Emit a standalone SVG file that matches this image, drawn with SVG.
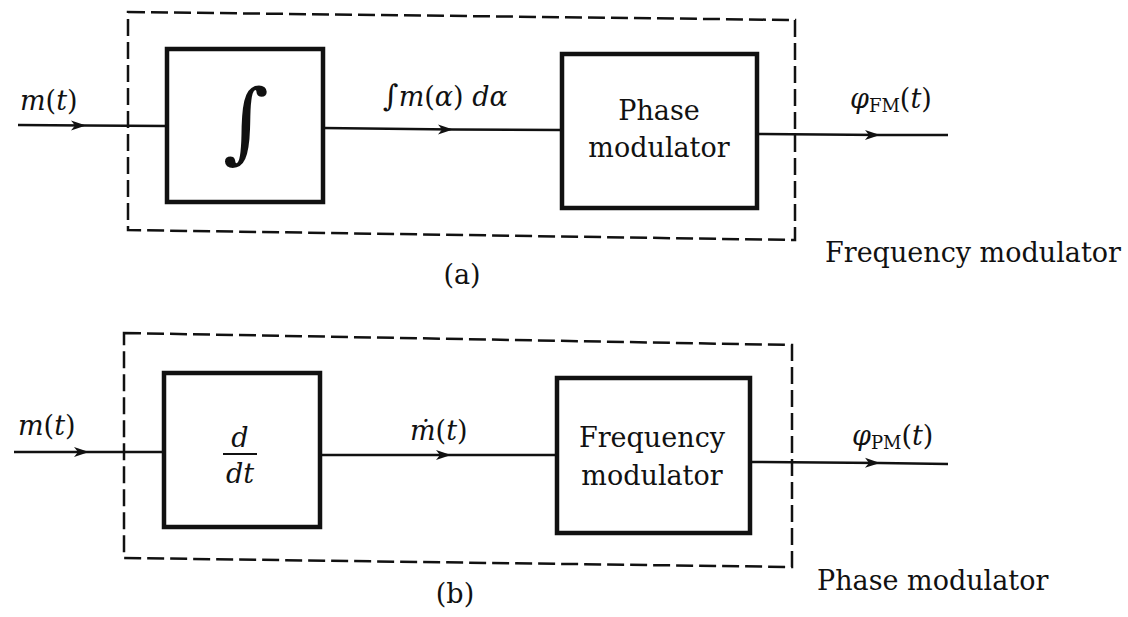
<svg xmlns="http://www.w3.org/2000/svg" width="1128" height="617" viewBox="0 0 1128 617">
<style>
.dash{fill:none;stroke:#111;stroke-width:2.5;stroke-dasharray:17 6}
.blk{fill:#fff;stroke:#111;stroke-width:4.5}
.wire{fill:none;stroke:#111;stroke-width:2.5}
.txt{font-family:"DejaVu Serif","Liberation Serif",serif;font-size:27px;fill:#111}
.math{font-family:"DejaVu Serif","Liberation Serif",serif;font-style:italic;font-size:27px;fill:#111}
.up{font-style:normal}
.sub{font-family:"DejaVu Serif","Liberation Serif",serif;font-style:normal;font-size:18px;fill:#111}
.bigint{font-family:"DejaVu Serif","Liberation Serif",serif;font-size:88px;fill:#111}
</style>
<defs>
<marker id="arr" viewBox="-16 -6 18 12" markerWidth="18" markerHeight="12" refX="0" refY="0" orient="auto" markerUnits="userSpaceOnUse">
<path d="M0,0 L-15,-5 L-11,0 L-15,5 Z" fill="#111"/>
</marker>
</defs>
<rect width="1128" height="617" fill="#fff"/>

<g id="fm-group">
<path class="dash" d="M128,12 L795,20 L795,240 L128,230 Z"/>
<text class="txt" x="825" y="262">Frequency modulator</text>
<text class="txt" x="462" y="284" text-anchor="middle">(a)</text>
</g>
<g id="integrator">
<rect class="blk" x="167" y="49" width="156" height="153"/>
<text class="bigint" x="246" y="152" text-anchor="middle">∫</text>
</g>
<g id="phase-mod-a">
<rect class="blk" x="562" y="54" width="195" height="154"/>
<text class="txt" x="659" y="120" text-anchor="middle">Phase</text>
<text class="txt" x="659" y="157" text-anchor="middle">modulator</text>
</g>

<g id="pm-group">
<path class="dash" d="M124,333 L792,345 L792,567 L124,558 Z"/>
<text class="txt" x="817" y="590">Phase modulator</text>
<text class="txt" x="455" y="603" text-anchor="middle">(b)</text>
</g>
<g id="differentiator">
<rect class="blk" x="164" y="373" width="156" height="154"/>
<text class="math" x="240" y="447" text-anchor="middle">d</text>
<line x1="223" y1="454" x2="257" y2="454" stroke="#111" stroke-width="2"/>
<text class="math" x="240" y="483" text-anchor="middle">dt</text>
</g>
<g id="freq-mod-b">
<rect class="blk" x="557" y="378" width="193" height="155"/>
<text class="txt" x="652" y="447" text-anchor="middle">Frequency</text>
<text class="txt" x="652" y="485" text-anchor="middle">modulator</text>
</g>

<g id="connectors">
<path class="wire" marker-mid="url(#arr)" d="M18,125 L86,125.5 L167,126"/>
<path class="wire" marker-mid="url(#arr)" d="M323,128 L453,129.5 L562,130"/>
<path class="wire" marker-mid="url(#arr)" d="M757,134 L880,135 L948,135"/>
<path class="wire" marker-mid="url(#arr)" d="M14,452 L89,452 L164,452"/>
<path class="wire" marker-mid="url(#arr)" d="M320,455 L451,455 L557,455"/>
<path class="wire" marker-mid="url(#arr)" d="M750,462 L880,463 L948,464"/>
</g>

<g id="labels">
<text class="math" x="20" y="110">m<tspan class="up">(</tspan>t<tspan class="up">)</tspan></text>
<text class="math" x="383" y="106"><tspan font-size="30">∫</tspan>m<tspan class="up">(</tspan>α<tspan class="up">)</tspan> dα</text>
<text class="math" x="850" y="108">φ<tspan class="sub" dy="4">FM</tspan><tspan class="up" dy="-4">(</tspan>t<tspan class="up">)</tspan></text>
<text class="math" x="18" y="435">m<tspan class="up">(</tspan>t<tspan class="up">)</tspan></text>
<text class="math" x="410" y="440">ṁ<tspan class="up">(</tspan>t<tspan class="up">)</tspan></text>
<text class="math" x="852" y="445">φ<tspan class="sub" dy="4">PM</tspan><tspan class="up" dy="-4">(</tspan>t<tspan class="up">)</tspan></text>
</g>
</svg>
